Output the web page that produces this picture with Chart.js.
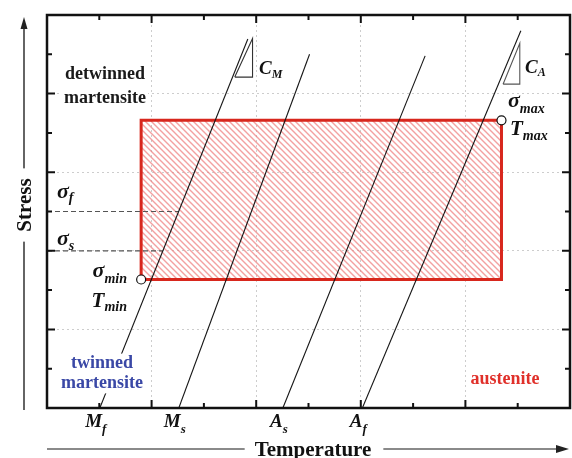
<!DOCTYPE html>
<html>
<head>
<meta charset="utf-8">
<script src="https://cdn.jsdelivr.net/npm/chart.js@4.4.1/dist/chart.umd.min.js"></script>
<style>
body { margin: 0; background: #fff; }
</style>
</head>
<body>
<canvas id="myChart" width="572" height="458"></canvas>
<script>
// transformation lines, start at zero stress and end near the top
var transBase = ["M", "M", "A", "A"];
var transSub = ["f", "s", "s", "f"];
var transX0 = [1.01, 2.52, 4.51, 6.03];
var transY0 = [0, 0, 0, 0];
var transX1 = [3.84, 5.02, 7.23, 9.06];
var transY1 = [9.39, 9.0, 8.96, 9.6];

// loading box (Tmin..Tmax, sigma_min..sigma_max)
var boxX = [1.8, 8.69];
var boxY = [3.27, 7.32];

// critical stresses, dashed out to the Mf line
var sigmaSub = ["f", "s"];
var sigmaY = [5.0, 4.0];
var sigmaXEnd = [2.52, 2.21];

// slope triangles C_M and C_A
var slopeMX = [3.59, 3.93];
var slopeMY = [8.42, 9.4];
var slopeAX = [8.72, 9.04];
var slopeAY = [8.24, 9.28];

var tickValues = [1, 2, 3, 4, 5, 6, 7, 8, 9];

var serif = '"Liberation Serif", "Times New Roman", serif';

function makeHatch() {
    var c = document.createElement("canvas");
    c.width = 6;
    c.height = 6;
    var g = c.getContext("2d");
    g.strokeStyle = "rgba(238,125,125,0.72)";
    g.lineWidth = 1.4;
    g.beginPath();
    g.moveTo(-1, -1); g.lineTo(7, 7);
    g.moveTo(-1, 5); g.lineTo(1, 7);
    g.moveTo(5, -1); g.lineTo(7, 1);
    g.stroke();
    return g.createPattern(c, "repeat");
}

function triangle(xs, ys) {
    return [
        {x: xs[0], y: ys[0]},
        {x: xs[1], y: ys[1]},
        {x: xs[1], y: ys[0]},
        {x: xs[0], y: ys[0]}
    ];
}

function drawSub(ctx, base, sub, x, y, size, subSize, drop, align, color) {
    ctx.font = "bold italic " + size + "px " + serif;
    var w1 = ctx.measureText(base).width;
    ctx.font = "bold italic " + subSize + "px " + serif;
    var w2 = ctx.measureText(sub).width;
    var left = x;
    if (align === "center") left = x - (w1 + w2) / 2;
    if (align === "right") left = x - w1 - w2;
    ctx.textAlign = "left";
    ctx.textBaseline = "alphabetic";
    ctx.fillStyle = color || "#111";
    ctx.font = "bold italic " + size + "px " + serif;
    ctx.fillText(base, left, y);
    ctx.font = "bold italic " + subSize + "px " + serif;
    ctx.fillText(sub, left + w1, y + drop);
}

function drawBlock(ctx, lines, cx, baselines, size, color) {
    ctx.font = "bold " + size + "px " + serif;
    var w = 0;
    lines.forEach(function(t) { w = Math.max(w, ctx.measureText(t).width); });
    ctx.fillStyle = "#fff";
    ctx.fillRect(cx - w / 2 - 2, baselines[0] - size * 0.8, w + 4, baselines[baselines.length - 1] - baselines[0] + size * 1.1);
    ctx.fillStyle = color;
    ctx.textAlign = "center";
    ctx.textBaseline = "alphabetic";
    lines.forEach(function(t, i) { ctx.fillText(t, cx, baselines[i]); });
}

var decor = {
    id: "decor",
    afterDraw: function(chart) {
        var ctx = chart.ctx;
        var a = chart.chartArea;
        var xs = chart.scales.x;
        var ys = chart.scales.y;
        ctx.save();

        // frame and inward ticks
        ctx.strokeStyle = "#111";
        ctx.lineWidth = 2.5;
        ctx.strokeRect(a.left, a.top, a.right - a.left, a.bottom - a.top);
        ctx.lineWidth = 2;
        tickValues.forEach(function(v) {
            var len = v % 2 === 0 ? 8 : 5;
            var px = xs.getPixelForValue(v);
            var py = ys.getPixelForValue(v);
            ctx.beginPath();
            ctx.moveTo(px, a.bottom); ctx.lineTo(px, a.bottom - len);
            ctx.moveTo(px, a.top); ctx.lineTo(px, a.top + len);
            ctx.moveTo(a.left, py); ctx.lineTo(a.left + len, py);
            ctx.moveTo(a.right, py); ctx.lineTo(a.right - len, py);
            ctx.stroke();
        });

        // temperature arrow
        ctx.strokeStyle = "#8a8a8a";
        ctx.lineWidth = 2;
        ctx.beginPath();
        ctx.moveTo(a.left, 449); ctx.lineTo(558, 449);
        ctx.stroke();
        ctx.fillStyle = "#222";
        ctx.beginPath();
        ctx.moveTo(569, 449); ctx.lineTo(556, 445); ctx.lineTo(556, 453);
        ctx.closePath();
        ctx.fill();

        // stress arrow
        ctx.strokeStyle = "#111";
        ctx.lineWidth = 1.3;
        ctx.beginPath();
        ctx.moveTo(24, 410); ctx.lineTo(24, 26);
        ctx.stroke();
        ctx.beginPath();
        ctx.moveTo(24, 17); ctx.lineTo(20.5, 29); ctx.lineTo(27.5, 29);
        ctx.closePath();
        ctx.fill();

        // axis titles
        ctx.font = "bold 21px " + serif;
        var tw = ctx.measureText("Temperature").width;
        ctx.fillStyle = "#fff";
        ctx.fillRect(313 - tw / 2 - 10, 438, tw + 22, 20);
        ctx.fillStyle = "#111";
        ctx.textAlign = "center";
        ctx.textBaseline = "alphabetic";
        ctx.fillText("Temperature", 313, 456);

        ctx.save();
        ctx.translate(31, 205);
        ctx.rotate(-Math.PI / 2);
        var sw = ctx.measureText("Stress").width;
        ctx.fillStyle = "#fff";
        ctx.fillRect(-sw / 2 - 10, -17, sw + 20, 22);
        ctx.fillStyle = "#111";
        ctx.fillText("Stress", 0, 0);
        ctx.restore();

        // transformation temperatures under the axis
        transBase.forEach(function(b, i) {
            drawSub(ctx, b, transSub[i], xs.getPixelForValue(transX0[i]) - 4, 427, 19, 13, 6, "center");
        });

        // phase labels
        drawBlock(ctx, ["detwinned", "martensite"], 105, [79, 103], 18, "#1a1a1a");
        drawBlock(ctx, ["twinned", "martensite"], 102, [368, 388], 18, "#3a48a6");
        drawBlock(ctx, ["austenite"], 505, [384], 18, "#e0302a");

        // slopes and stresses
        drawSub(ctx, "C", "M", 259, 74, 19, 12, 4, "left");
        drawSub(ctx, "C", "A", 525, 73, 19, 12, 3, "left");
        drawSub(ctx, "\u03C3", "max", 508, 107, 22, 14, 6, "left");
        drawSub(ctx, "T", "max", 510, 135, 21, 14, 5, "left");
        drawSub(ctx, "\u03C3", "min", 127, 277, 22, 14, 6, "right");
        drawSub(ctx, "T", "min", 127, 307, 21, 14, 4, "right");
        drawSub(ctx, "\u03C3", sigmaSub[0], 57, 198, 22, 14, 4, "left");
        drawSub(ctx, "\u03C3", sigmaSub[1], 57, 245, 22, 14, 5, "left");

        ctx.restore();
    }
};

var datasets = [];

// end points of the loading box
datasets.push({
    data: [{x: boxX[0], y: boxY[0]}, {x: boxX[1], y: boxY[1]}],
    showLine: false,
    pointRadius: 4.5,
    pointBackgroundColor: "#fff",
    pointBorderColor: "#111",
    pointBorderWidth: 1.2
});

transX0.forEach(function(x0, i) {
    datasets.push({
        data: [{x: x0, y: transY0[i]}, {x: transX1[i], y: transY1[i]}],
        showLine: true,
        borderColor: "#151515",
        borderWidth: 1.1,
        pointRadius: 0
    });
});

datasets.push({
    data: triangle(slopeMX, slopeMY),
    showLine: true,
    borderColor: "#333",
    borderWidth: 1.1,
    pointRadius: 0
});
datasets.push({
    data: triangle(slopeAX, slopeAY),
    showLine: true,
    borderColor: "#555",
    borderWidth: 1.1,
    pointRadius: 0
});

sigmaY.forEach(function(y, i) {
    datasets.push({
        data: [{x: 0, y: y}, {x: sigmaXEnd[i], y: y}],
        showLine: true,
        borderColor: "#555",
        borderWidth: 1.2,
        borderDash: [5, 3],
        pointRadius: 0
    });
});

datasets.push({
    data: [
        {x: boxX[0], y: boxY[0]},
        {x: boxX[0], y: boxY[1]},
        {x: boxX[1], y: boxY[1]},
        {x: boxX[1], y: boxY[0]},
        {x: boxX[0], y: boxY[0]}
    ],
    showLine: true,
    borderColor: "#d8271d",
    borderWidth: 3,
    borderJoinStyle: "miter",
    pointRadius: 0,
    fill: "shape",
    backgroundColor: makeHatch()
});

var ctx = document.getElementById("myChart").getContext("2d");
var chart = new Chart(ctx, {
    type: "scatter",
    data: {datasets: datasets},
    options: {
        responsive: false,
        animation: false,
        layout: {autoPadding: false, padding: {left: 47, right: 2, top: 15, bottom: 50}},
        plugins: {legend: {display: false}, tooltip: {enabled: false}},
        scales: {
            x: {
                type: "linear",
                min: 0,
                max: 10,
                ticks: {display: false, stepSize: 2},
                grid: {color: "#cdcdcd", lineWidth: 1, drawTicks: false},
                border: {display: false, dash: [2, 3]}
            },
            y: {
                type: "linear",
                min: 0,
                max: 10,
                ticks: {display: false, stepSize: 2},
                grid: {color: "#cdcdcd", lineWidth: 1, drawTicks: false},
                border: {display: false, dash: [2, 3]}
            }
        }
    },
    plugins: [decor]
});
</script>
</body>
</html>
